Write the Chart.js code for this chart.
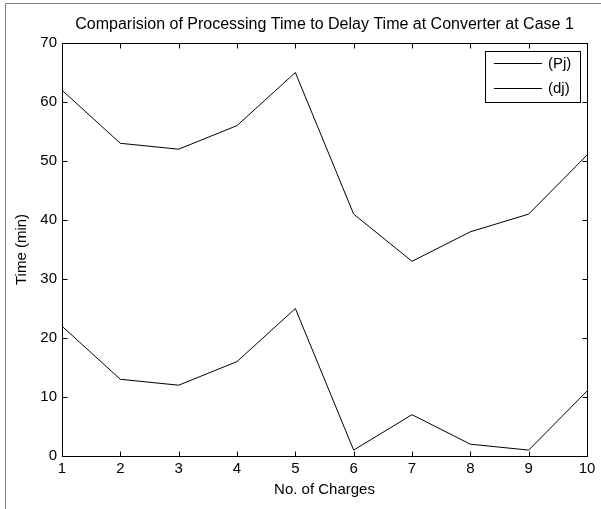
<!DOCTYPE html>
<html>
<head>
<meta charset="utf-8">
<script src="https://cdn.jsdelivr.net/npm/chart.js@4"></script>
<style>
  body { margin: 0; background: #fff; }
  #wrap { width: 601px; height: 509px; }
</style>
</head>
<body>
<div id="wrap"><canvas id="chart" width="601" height="509"></canvas></div>
<script>
// Data
const charges = [1, 2, 3, 4, 5, 6, 7, 8, 9, 10];
const processing = [62, 53, 52, 56, 65, 41, 33, 38, 41, 51];
const delay = [22, 13, 12, 16, 25, 1, 7, 2, 1, 11];
const seriesNames = ['(Pj)', '(dj)'];
const chartTitle = 'Comparision of Processing Time to Delay Time at Converter at Case 1';

const FONT = "'Liberation Sans', Arial, Helvetica, sans-serif";

// MATLAB style frame: box, inward ticks, figure edge, title over the axes and boxed legend
const matlabFrame = {
  id: 'matlabFrame',
  afterDraw(chart) {
    const { ctx, chartArea: a, scales: { x, y } } = chart;
    const L = Math.round(a.left) + 0.5, R = Math.round(a.right) + 0.5;
    const T = Math.round(a.top) + 0.5, B = Math.round(a.bottom) + 0.5;
    const tick = 5;
    ctx.save();
    ctx.lineWidth = 1;

    // figure edge
    ctx.strokeStyle = '#808080';
    ctx.beginPath();
    ctx.moveTo(5.5, chart.height);
    ctx.lineTo(5.5, 3.5);
    ctx.lineTo(chart.width, 3.5);
    ctx.stroke();

    // title, centred over the axes like matlab does
    ctx.fillStyle = '#000';
    ctx.font = '16px ' + FONT;
    ctx.textAlign = 'center';
    ctx.textBaseline = 'middle';
    ctx.fillText(chartTitle, (a.left + a.right) / 2, 25);

    // axes box
    ctx.strokeStyle = '#000';
    ctx.strokeRect(L, T, R - L, B - T);

    ctx.beginPath();
    x.ticks.forEach(t => {
      const px = Math.round(x.getPixelForValue(t.value)) + 0.5;
      ctx.moveTo(px, B); ctx.lineTo(px, B - tick);
      ctx.moveTo(px, T); ctx.lineTo(px, T + tick);
    });
    y.ticks.forEach(t => {
      const py = Math.round(y.getPixelForValue(t.value)) + 0.5;
      ctx.moveTo(L, py); ctx.lineTo(L + tick, py);
      ctx.moveTo(R, py); ctx.lineTo(R - tick, py);
    });
    ctx.stroke();

    // legend
    const lx = 485.5, ly = 51.5, lw = 95, lh = 51;
    ctx.fillStyle = '#fff';
    ctx.fillRect(lx, ly, lw, lh);
    ctx.strokeRect(lx, ly, lw, lh);
    ctx.font = '15px ' + FONT;
    ctx.textBaseline = 'middle';
    ctx.textAlign = 'left';
    chart.data.datasets.forEach((ds, i) => {
      const yy = 63.5 + i * 25;
      ctx.strokeStyle = ds.borderColor;
      ctx.beginPath();
      ctx.moveTo(494, yy); ctx.lineTo(542, yy);
      ctx.stroke();
      ctx.fillStyle = '#000';
      ctx.fillText(ds.label, 548, yy);
    });
    ctx.restore();
  }
};

Chart.defaults.font.family = FONT;
Chart.defaults.font.size = 15;
Chart.defaults.color = '#000';

new Chart(document.getElementById('chart').getContext('2d'), {
  type: 'line',
  data: {
    datasets: [
      {
        label: seriesNames[0],
        data: charges.map((c, i) => ({ x: c, y: processing[i] })),
        borderColor: '#000',
        borderWidth: 1,
        pointRadius: 0,
        tension: 0
      },
      {
        label: seriesNames[1],
        data: charges.map((c, i) => ({ x: c, y: delay[i] })),
        borderColor: '#000',
        borderWidth: 1,
        pointRadius: 0,
        tension: 0
      }
    ]
  },
  options: {
    responsive: false,
    animation: false,
    devicePixelRatio: 1,
    layout: { padding: { left: 0, right: 14, top: 43, bottom: 0 } },
    plugins: {
      legend: { display: false },
      tooltip: { enabled: false },
      title: { display: false }
    },
    scales: {
      x: {
        type: 'linear',
        min: 1,
        max: 10,
        grid: { display: false, drawTicks: false },
        border: { display: false },
        ticks: { stepSize: 1, padding: 4, maxRotation: 0 },
        title: { display: true, text: 'No. of Charges', padding: { top: 0, bottom: 10 } },
        afterFit: s => { s.height = 53; }
      },
      y: {
        min: 0,
        max: 70,
        grid: { display: false, drawTicks: false },
        border: { display: false },
        ticks: { stepSize: 10, padding: 5 },
        title: { display: true, text: 'Time (min)', padding: { top: 13, bottom: 0 } },
        afterFit: s => { s.width = 62; }
      }
    }
  },
  plugins: [matlabFrame]
});
</script>
</body>
</html>
